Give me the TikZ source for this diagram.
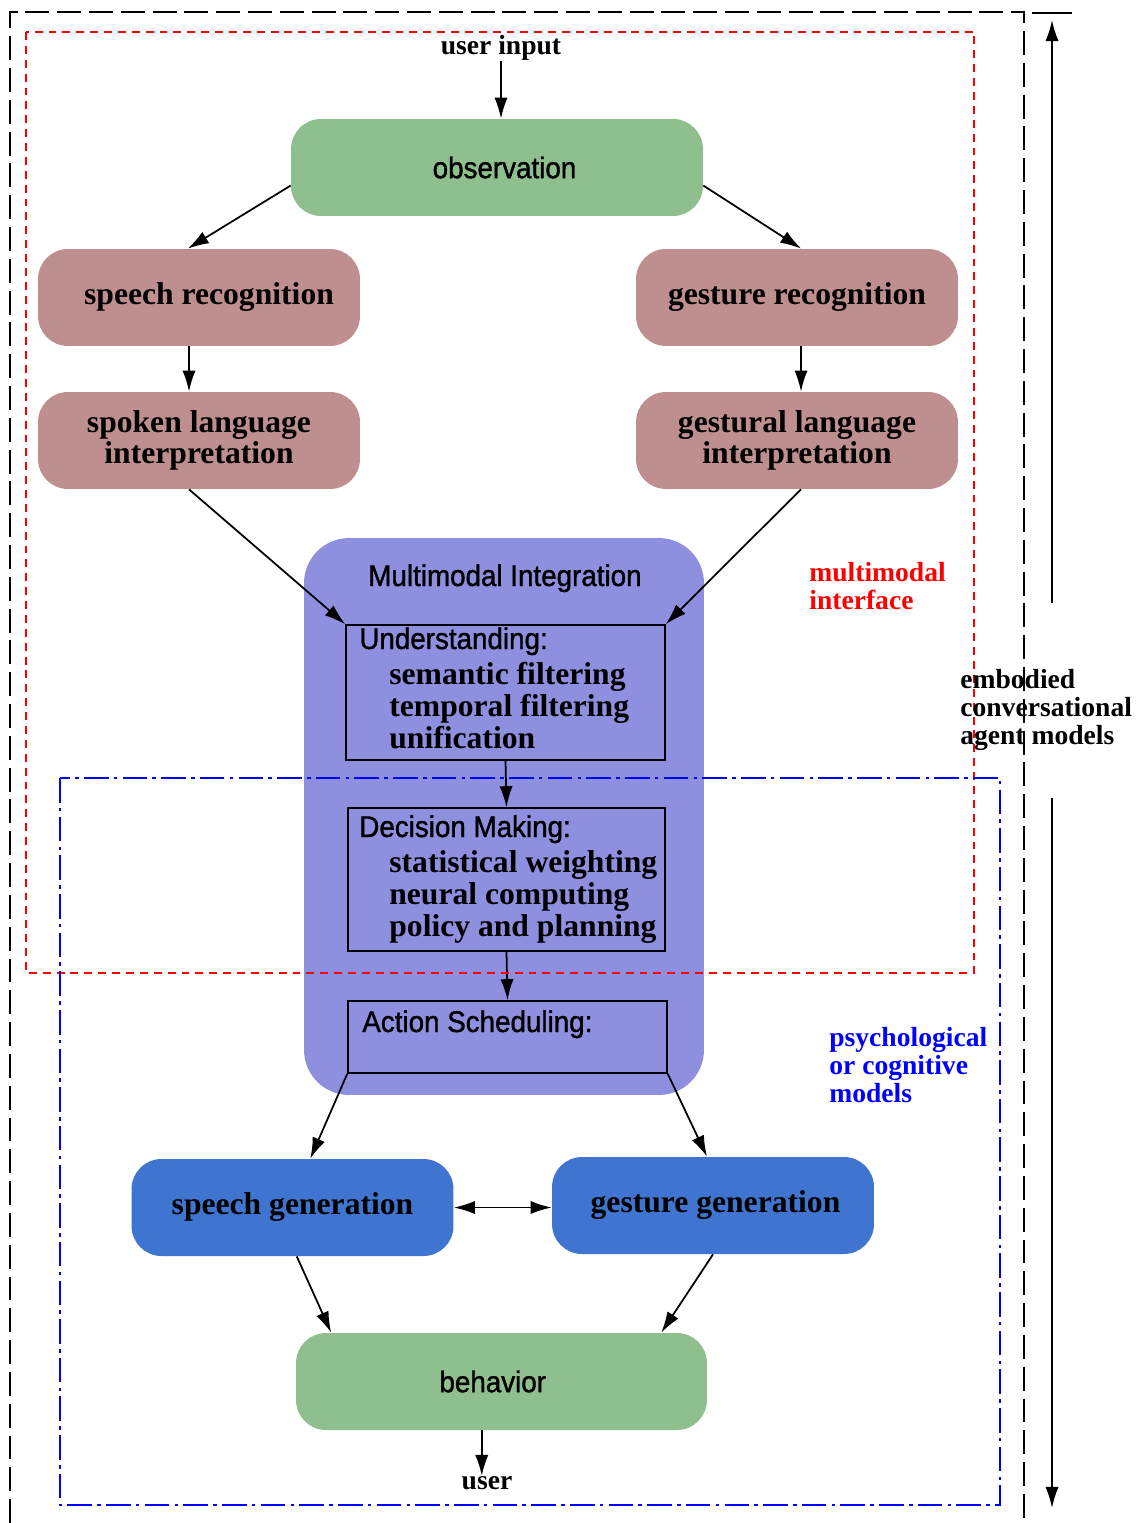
\documentclass[tikz,border=0pt]{standalone}
\usepackage{fontspec}
\setmainfont{Liberation Serif}
\newfontfamily\hvfont[FakeStretch=0.93, FakeBold=1.2]{Liberation Sans}
\usepackage{tikz}
\usetikzlibrary{arrows.meta}
\definecolor{obsgreen}{RGB}{143,191,143}
\definecolor{recogred}{RGB}{191,143,143}
\definecolor{mmpurple}{RGB}{143,143,223}
\definecolor{genblue}{RGB}{63,117,209}
\tikzstyle{greenbox} = [rectangle, rounded corners=0.6cm, minimum width=8.24cm, minimum height=1.94cm, fill=obsgreen, font=\hvfont\fontsize{17}{17}\selectfont]
\tikzstyle{recogbox} = [rectangle, rounded corners=0.6cm, minimum width=6.44cm, minimum height=1.94cm, fill=recogred, align=center, font=\bfseries\fontsize{18}{18}\selectfont]
\tikzstyle{genbox} = [rectangle, rounded corners=0.6cm, minimum width=6.44cm, minimum height=1.94cm, fill=genblue, font=\bfseries\fontsize{18}{18}\selectfont]
\tikzstyle{inbox} = [rectangle, draw=black, line width=0.85pt, fill=mmpurple]
\tikzstyle{headtext} = [anchor=base west, inner sep=0pt, font=\hvfont\fontsize{17}{17}\selectfont]
\tikzstyle{itemtext} = [anchor=base west, inner sep=0pt, font=\bfseries\fontsize{18}{18}\selectfont]
\tikzstyle{sidelabel} = [anchor=west, inner sep=0pt, align=left, font=\bfseries\fontsize{15.7}{15.9}\selectfont]
\tikzstyle{flow} = [->, line width=1pt]

\begin{document}
\begin{tikzpicture}[x=0.02cm, y=-0.02cm, >={Latex[length=12pt,width=7.5pt]}]
		\useasboundingbox (0,0) rectangle (1145,1523);

		% input side
		\node (uin)[inner sep=0pt, font=\bfseries\fontsize{15.7}{15.7}\selectfont] at (501,48) {user input};
		\node (obs)[greenbox] at (497,167.5) {\hspace*{0.3cm}observation};
		\node (sr)[recogbox] at (199,297.5) {\hspace*{0.4cm}speech recognition};
		\node (gr)[recogbox] at (797,297.5) {gesture recognition};
		\node (sl)[recogbox] at (199,440.5) {spoken language\\interpretation};
		\node (gl)[recogbox] at (797,440.5) {gestural language\\interpretation};

		% multimodal integration
		\node (mi)[rectangle, rounded corners=0.9cm, minimum width=8cm, minimum height=11.14cm, fill=mmpurple] at (504,816.5) {};
		\node (mititle)[anchor=base, inner sep=0pt, font=\hvfont\fontsize{17}{17}\selectfont] at (505,586) {Multimodal Integration};
		\node (und)[inbox, minimum width=6.38cm, minimum height=2.7cm] at (505.5,692.5) {};
		\node (dec)[inbox, minimum width=6.34cm, minimum height=2.86cm] at (506.5,879.5) {};
		\node (act)[inbox, minimum width=6.38cm, minimum height=1.44cm] at (507.5,1037) {};
		\node (undhead)[headtext] at (359,649) {Understanding:};
		\node (dechead)[headtext] at (359,837) {Decision Making:};
		\node (acthead)[headtext] at (362,1032) {Action Scheduling:};
		\foreach \txt [count=\i] in {semantic filtering, temporal filtering, unification}
			\node (und-\i)[itemtext] at (389,652+32*\i) {\txt};
		\foreach \txt [count=\i] in {statistical weighting, neural computing, policy and planning}
			\node (dec-\i)[itemtext] at (389,840+32*\i) {\txt};

		% output side
		\node (sg)[genbox] at (292.5,1207.5) {speech generation};
		\node (gg)[genbox] at (713,1205.5) {\hspace*{0.1cm}gesture generation};
		\node (beh)[greenbox, minimum width=8.22cm] at (501.5,1381.5) {behavior\hspace*{0.35cm}};
		\node (usr)[inner sep=0pt, font=\bfseries\fontsize{15.7}{15.7}\selectfont] at (487,1483) {user};

		\draw [flow] (uin.south) -- (uin.south |- obs.north);
		\draw [flow] (obs.185) -- (sr.103);
		\draw [flow] (obs.-5) -- (gr.85);
		\draw [flow] ([xshift=-0.2cm]sr.south) -- ([xshift=-0.2cm]sl.north);
		\draw [flow] ([xshift=0.08cm]gr.south) -- ([xshift=0.08cm]gl.north);
		\draw [flow] ([xshift=-0.2cm]sl.south) -- (und.north west);
		\draw [flow] ([xshift=0.08cm]gl.south) -- (und.north east);
		\draw [flow] (und.south) -- (dec.north);
		\draw [flow] (dec.south) -- (act.north);
		\draw [flow] (act.south west) -- (sg.70);
		\draw [flow] (act.south east) -- (gg.97);
		\draw [<->, line width=1pt] (sg.east) -- (gg.west |- sg.east);
		\draw [flow] (sg.-85) -- (beh.164);
		\draw [flow] (gg.south) -- (beh.17);
		\draw [flow] (beh.248) -- (beh.248 |- usr.north);

		% regions
		\draw [red, line width=1pt, dash pattern=on 4.5pt off 3.4pt] (26,32) rectangle (974,973);
		\draw [blue, line width=1pt, dash pattern=on 14pt off 3pt on 2pt off 3pt] (60,778) rectangle (1000,1505);
		\draw [line width=1.1pt, dash pattern=on 13.6pt off 4.5pt] (10,1523) -- (10,12) -- (1024,12) -- (1024,1523);
		\node (mmlabel)[sidelabel, text=red] at (809,586) {multimodal\\interface};
		\node (pclabel)[sidelabel, text=blue] at (829,1065) {psychological\\or cognitive\\models};
		\node (ecalabel)[sidelabel] at (960,710) {embodied\\conversational\\agent models};

		% extent arrows
		\coordinate (tickl) at (1032,13);
		\coordinate (tickr) at (1072,13);
		\coordinate (uptop) at (1052,20);
		\coordinate (upbot) at (1052,603);
		\coordinate (downtop) at (1052,798);
		\coordinate (downbot) at (1052,1508);
		\draw [line width=1pt] (tickl) -- (tickr);
		\draw [flow] (upbot) -- (uptop);
		\draw [flow] (downtop) -- (downbot);
	\end{tikzpicture}
\end{document}
